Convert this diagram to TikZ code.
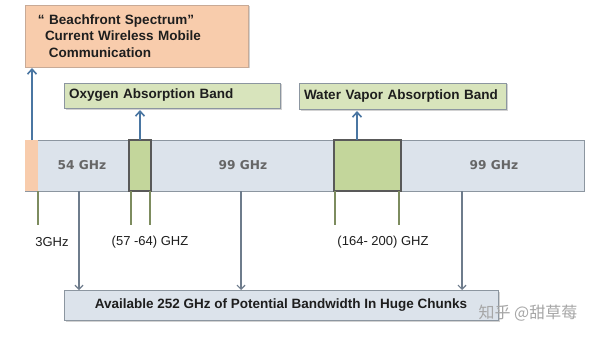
\documentclass[tikz,border=0pt]{standalone}
\usepackage{fontspec}
\setmainfont{Liberation Sans}
\newfontfamily\barfont{DejaVu Sans}
\newfontfamily\cjk{Noto Sans CJK SC}
\usepackage{tikz}
\usetikzlibrary{arrows.meta, positioning, calc, shadows}
\definecolor{SpecOrange}{RGB}{248, 204, 172}
\definecolor{SpecOrangeLine}{RGB}{200, 170, 150}
\definecolor{SpecGreen}{RGB}{216, 228, 188}
\definecolor{SpecGreenDark}{RGB}{195, 214, 155}
\definecolor{SpecBar}{RGB}{220, 227, 235}
\definecolor{SpecBorder}{RGB}{140, 150, 160}
\definecolor{SpecArrowUp}{RGB}{74, 118, 162}
\definecolor{SpecArrowDown}{RGB}{110, 124, 140}
\definecolor{SpecTick}{RGB}{125, 140, 95}
\definecolor{SpecText}{RGB}{30, 30, 30}

\tikzset{
  labelbox/.style={rectangle, draw=SpecBorder, line width=0.8pt, inner sep=0pt, outer sep=0pt,
    drop shadow={shadow xshift=1.5pt, shadow yshift=-1.5pt, opacity=0.35},
    font=\fontsize{13.5}{16.5}\selectfont\bfseries, text=SpecText},
  barpiece/.style={rectangle, inner sep=0pt, outer sep=0pt, minimum height=51pt},
  bandlabel/.style={font=\barfont\fontsize{12.2}{14}\selectfont\bfseries, text=black!60},
  freqlabel/.style={font=\fontsize{13}{15}\selectfont, text=SpecText},
  uparrow/.style={draw=SpecArrowUp, line width=1.8pt, -{Straight Barb[length=5pt, width=9pt, line width=1.6pt]}},
  downarrow/.style={draw=SpecArrowDown, line width=1.2pt, -{Straight Barb[length=4pt, width=8pt, line width=1.2pt]}},
  freqtick/.style={draw=SpecTick, line width=1.3pt}
}

\begin{document}
\begin{tikzpicture}[x=1pt, y=-1pt]
  \useasboundingbox[fill=white] (0,0) rectangle (600,337);

  % boxes above the spectrum
  \node[labelbox, fill=SpecOrange, draw=SpecOrangeLine, minimum width=223pt, minimum height=62pt,
    text width=215pt, align=left] (beach) at (136.5,36)
    {\hspace*{9pt}\textquotedblleft\ Beachfront Spectrum\textquotedblright\\
     \hspace*{16pt}Current Wireless Mobile\\
     \hspace*{20pt}Communication};
  \node[labelbox, fill=SpecGreen, minimum width=216pt, minimum height=25pt,
    text width=206pt, align=left] (oxygen) at (172,95.5) {Oxygen Absorption Band};
  \node[labelbox, fill=SpecGreen, minimum width=207pt, minimum height=26pt,
    text width=197pt, align=left] (vapor) at (402.5,96) {Water Vapor Absorption Band};

  % the spectrum bar
  \node[barpiece, fill=SpecBar, draw=SpecBorder, line width=0.8pt, minimum width=559pt] (bar) at (304.5,165.5) {};
  \node[barpiece, fill=SpecOrange, minimum width=13pt] (cellular) at (31.5,165.5) {};
  \node[barpiece, fill=SpecGreenDark, draw=black!65, line width=1.2pt, minimum width=22pt] (oxyband) at (140,165.5) {};
  \node[barpiece, fill=SpecGreenDark, draw=black!65, line width=1.2pt, minimum width=67pt] (vapband) at (367.5,165.5) {};
  \node[bandlabel] (gap1) at (82,165) {54 GHz};
  \node[bandlabel] (gap2) at (243,165) {99 GHz};
  \node[bandlabel] (gap3) at (494,165) {99 GHz};

  % up arrows to the boxes
  \coordinate (cellup) at (32,140);
  \coordinate (vapup) at (357,140);
  \draw[uparrow] (cellup) -- ($(cellup |- beach.south)+(0,1)$);
  \draw[uparrow] (oxyband.north) -- ($(oxyband.north |- oxygen.south)+(0,2)$);
  \draw[uparrow] (vapup) -- ($(vapup |- vapor.south)+(0,2)$);

  % frequency ticks
  \foreach \tx/\tn in {38/t1, 131/t2, 150/t3, 335/t4, 399/t5} {
    \coordinate (\tn) at (\tx,191);
    \draw[freqtick] (\tn) -- ++(0,34);
  }
  \node[freqlabel] (f1) at (52,242) {3GHz};
  \node[freqlabel] (f2) at (150,242) {(57 -64) GHZ};
  \node[freqlabel] (f3) at (383,242) {(164- 200) GHZ};

  % bottom box and arrows down
  \node[labelbox, fill=SpecBar, minimum width=434pt, minimum height=30pt] (avail) at (281,305)
    {Available 252 GHz of Potential Bandwidth In Huge Chunks};
  \foreach \dx/\dn in {79/d1, 241/d2, 462/d3} {
    \coordinate (\dn) at (\dx,191);
    \draw[downarrow] (\dn) -- (\dn |- avail.north);
  }

  \node[font=\cjk\fontsize{16}{18}\selectfont, text=black!35] (mark) at (528,313) {知乎 @甜草莓};
\end{tikzpicture}
\end{document}
